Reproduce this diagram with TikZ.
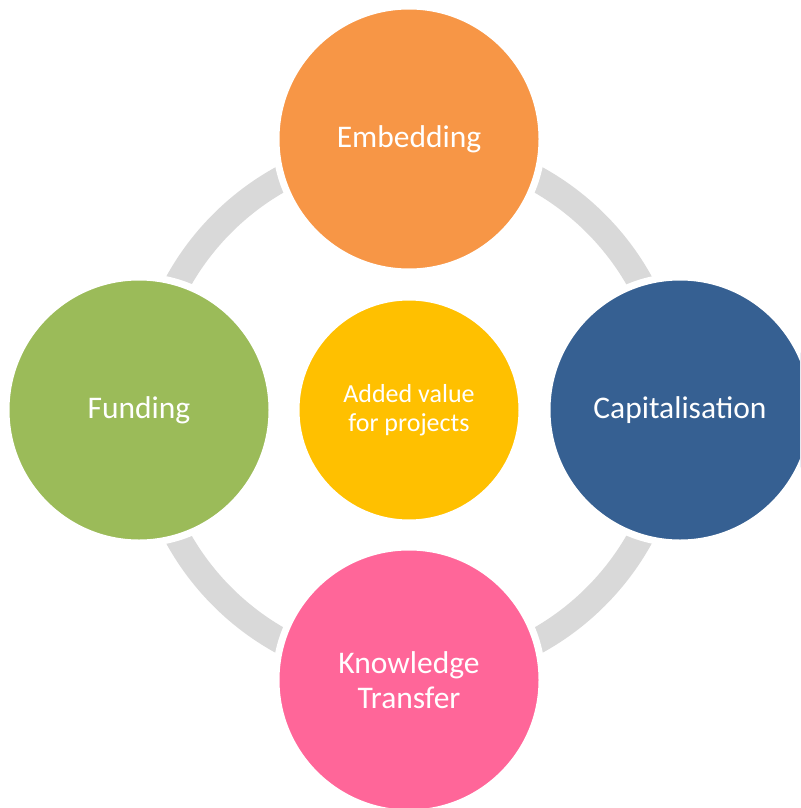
\documentclass[tikz,border=0pt]{standalone}
\usepackage{fontspec}
\setmainfont{Carlito}
\definecolor{cOrange}{HTML}{F79646}
\definecolor{cGreen}{HTML}{9BBB59}
\definecolor{cBlue}{HTML}{366092}
\definecolor{cPink}{HTML}{FF6699}
\definecolor{cGold}{HTML}{FFC000}
\definecolor{cRing}{HTML}{D9D9D9}
\tikzset{
  bigc/.style={circle, draw=white, line width=7pt, minimum size=266pt, inner sep=0pt,
    text=white, font=\fontsize{31.5}{35}\selectfont, align=center},
  midc/.style={circle, draw=white, line width=7pt, minimum size=226pt, inner sep=0pt,
    fill=cGold, text=white, font=\fontsize{26}{29}\selectfont, align=center},
}
\begin{document}
\begin{tikzpicture}[x=1pt,y=-1pt]
\useasboundingbox (0,0) rectangle (800,808);
\clip (0,0) rectangle (800,808);
\coordinate (ctr) at (409,410);
\draw[cRing, line width=26pt] (ctr) circle[radius=264];
\node[midc] (mid) at (ctr) {Added value\\for projects};
\node[bigc, fill=cOrange] (emb) at (409,139) {Embedding};
\node[bigc, fill=cGreen] (fun) at (139,410) {Funding};
\node[bigc, fill=cBlue] (cap) at (680,410) {Capitalisation};
\node[bigc, fill=cPink] (kno) at (409,680) {Knowledge\\Transfer};
\end{tikzpicture}
\end{document}
